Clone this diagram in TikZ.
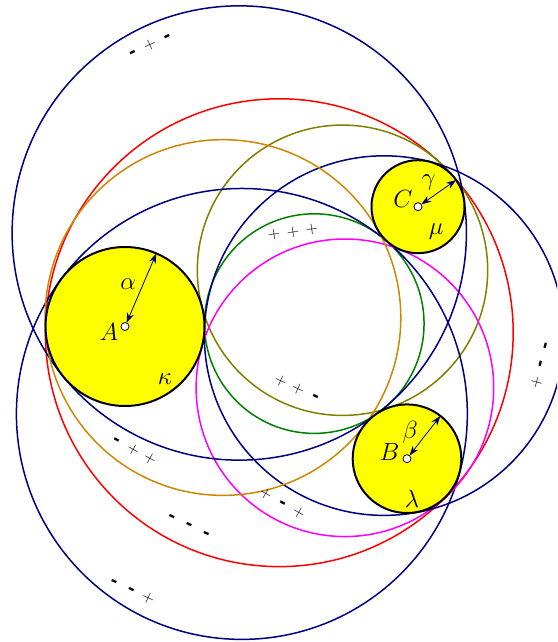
\documentclass[tikz,border=0pt]{standalone}
\usepackage{fontspec}
\usetikzlibrary{arrows.meta,calc}
\newfontfamily\djb{DejaVu Sans}
\definecolor{navyc}{RGB}{0,0,128}
\definecolor{orangec}{RGB}{204,136,0}
\definecolor{olivec}{RGB}{128,128,0}
\definecolor{greenc}{RGB}{0,128,0}
\definecolor{magc}{RGB}{255,0,255}
\definecolor{yel}{RGB}{255,255,0}
\newcommand\Ps{\makebox[19pt]{+}}
\newcommand\Ms{\makebox[19pt]{\djb\bfseries\fontsize{17}{17}\selectfont -}}
\begin{document}
\begin{tikzpicture}[x=1pt,y=-1pt,
  sol/.style={line width=1.5pt},
  disc/.style={fill=yel,draw=black,line width=2pt},
  rad/.style={navyc,line width=0.8pt,{Stealth[length=10pt,width=7pt]}-{Stealth[length=10pt,width=7pt]}},
  dot/.style={circle,draw=black,fill=white,inner sep=0pt,minimum size=8pt,line width=0.8pt},
  lbl/.style={font=\fontsize{23}{25}\selectfont,inner sep=0pt},
  sgn/.style={font=\fontsize{17}{19}\selectfont,inner sep=0pt}]
\useasboundingbox (0,0) rectangle (557,642);
\clip (0,0) rectangle (557,642);
\coordinate (A) at (125,326.5);
\coordinate (B) at (407,458.7);
\coordinate (C) at (418,206.7);
% solution circles
\draw[sol,greenc]   (314.27,323.60) circle[radius=109.79pt];
\draw[sol,red]      (279.28,332.70) circle[radius=233.91pt];
\draw[sol,olivec]   (342.51,270.24) circle[radius=145.17pt];
\draw[sol,navyc]    (241.88,413.93) circle[radius=225.46pt];
\draw[sol,magc]     (344.90,387.79) circle[radius=148.78pt];
\draw[sol,navyc]    (239.27,232.99) circle[radius=227.15pt];
\draw[sol,navyc]    (384.13,335.60) circle[radius=179.79pt];
\draw[sol,orangec]  (222.94,317.53) circle[radius=177.85pt];
% given circles
\draw[disc] (A) circle[radius=79.5pt];
\draw[disc] (B) circle[radius=54.3pt];
\draw[disc] (C) circle[radius=46.5pt];
% radius arrows
\coordinate (a0) at ($(A)+(66.8:4pt)$);
\coordinate (a1) at ($(A)+(66.8:79.5pt)$);
\coordinate (b0) at ($(B)+(52:4pt)$);
\coordinate (b1) at ($(B)+(52:54.3pt)$);
\coordinate (c0) at ($(C)+(35:4pt)$);
\coordinate (c1) at ($(C)+(35:46.5pt)$);
\draw[rad] (a0) -- (a1);
\draw[rad] (b0) -- (b1);
\draw[rad] (c0) -- (c1);
\node[dot] (dA) at (A) {};
\node[dot] (dB) at (B) {};
\node[dot] (dC) at (C) {};
% labels
\node[lbl] (lA) at (109,331.5) {$A$};
\node[lbl] (lal) at (128.3,284) {$\alpha$};
\node[lbl] (lka) at (165,379) {$\kappa$};
\node[lbl] (lB) at (389.5,451.7) {$B$};
\node[lbl] (lbe) at (410.3,432) {$\beta$};
\node[lbl] (lla) at (412,499) {$\lambda$};
\node[lbl] (lC) at (403,199.3) {$C$};
\node[lbl] (lga) at (428.7,183) {$\gamma$};
\node[lbl] (lmu) at (436.3,232) {$\mu$};
% sign labels
\node[sgn,rotate=25]  (s1) at (150,45)     {\Ms\Ps\Ms};
\node[sgn,rotate=8]   (s2) at (293,232)    {\Ps\Ps\Ps};
\node[sgn,rotate=-24] (s3) at (298,389)    {\Ps\Ps\Ms};
\node[sgn,rotate=-29] (s4) at (133.3,450)  {\Ms\Ps\Ps};
\node[sgn,rotate=-30] (s5) at (282.3,503.5){\Ps\Ms\Ps};
\node[sgn,rotate=-25] (s6) at (188.3,526.7){\Ms\Ms\Ms};
\node[sgn,rotate=-25] (s7) at (131,590)    {\Ms\Ms\Ps};
\node[sgn,rotate=75]  (s8) at (541.5,364)  {\Ps\Ms\Ms};
\end{tikzpicture}
\end{document}
